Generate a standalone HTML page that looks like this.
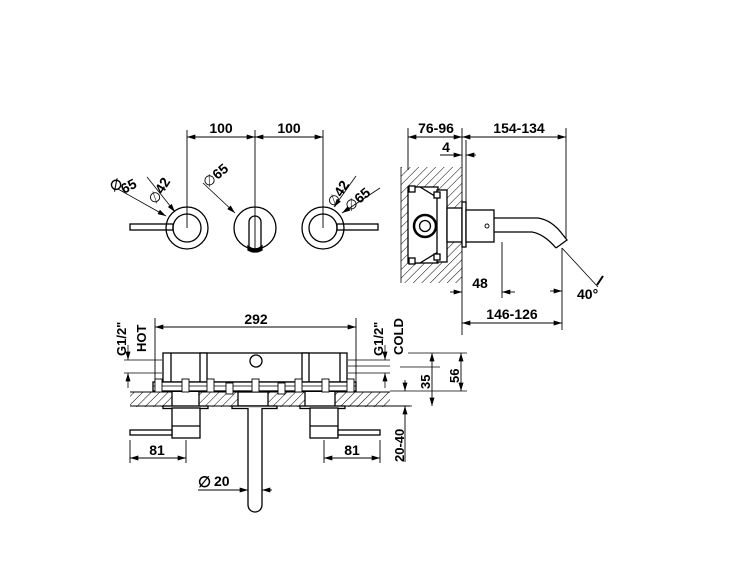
<!DOCTYPE html>
<html><head><style>
html,body{margin:0;padding:0;background:#fff;}
svg{display:block;}
text{font-family:"Liberation Sans",Arial,sans-serif;font-weight:bold;fill:#000;}
</style></head><body>
<svg width="750" height="563" viewBox="0 0 750 563" xmlns="http://www.w3.org/2000/svg">
<defs>
<pattern id="h" width="6" height="6" patternUnits="userSpaceOnUse" patternTransform="rotate(45)">
<line x1="0" y1="0" x2="0" y2="6" stroke="#000" stroke-width="1"/>
</pattern>
<marker id="a" viewBox="0 0 10 6" refX="10" refY="3" markerWidth="9" markerHeight="5" orient="auto-start-reverse" markerUnits="userSpaceOnUse"><path d="M0,0 L10,3 L0,6z" fill="#000"/></marker>
</defs>
<g stroke="#000" fill="none" stroke-width="1.3">
<!-- TOP VIEW -->
<line x1="187" y1="130" x2="187" y2="228" stroke-width="0.9"/>
<line x1="255" y1="130" x2="255" y2="250" stroke-width="0.9"/>
<line x1="323" y1="130" x2="323" y2="228" stroke-width="0.9"/>
<line x1="187" y1="137" x2="255" y2="137" stroke-width="0.9" marker-start="url(#a)" marker-end="url(#a)"/>
<line x1="255" y1="137" x2="323" y2="137" stroke-width="0.9" marker-start="url(#a)" marker-end="url(#a)"/>
<circle cx="187" cy="228" r="21"/><circle cx="187" cy="228" r="14"/>
<rect x="130" y="224" width="43" height="6"/>
<circle cx="255" cy="228" r="21"/>
<path d="M249,249 V222 a6,6 0 0 1 12,0 V249"/>
<path d="M248,246 Q255,252 262,246 L262,250 Q255,254 248,250z" fill="#000"/>
<circle cx="323" cy="228" r="21"/><circle cx="323" cy="228" r="14"/>
<rect x="337" y="224" width="41" height="6"/>
<line x1="118" y1="189" x2="166" y2="216" stroke-width="0.8" marker-end="url(#a)"/>
<line x1="147" y1="177" x2="175" y2="212" stroke-width="0.8" marker-end="url(#a)"/>
<line x1="203" y1="183" x2="235" y2="213" stroke-width="0.8" marker-end="url(#a)"/>
<line x1="356" y1="176" x2="334" y2="207" stroke-width="0.8" marker-end="url(#a)"/>
<line x1="380" y1="188" x2="342" y2="213" stroke-width="0.8" marker-end="url(#a)"/>
<!-- SIDE VIEW -->
<rect x="401" y="167" width="61" height="116" fill="url(#h)" stroke="none"/>
<line x1="401" y1="167" x2="401" y2="283" stroke-width="0.8"/>
<line x1="408" y1="128" x2="408" y2="170" stroke-width="0.9"/>
<line x1="462" y1="128" x2="462" y2="335" stroke-width="0.9"/>
<line x1="466" y1="140" x2="466" y2="205" stroke-width="0.9"/>
<line x1="566" y1="128" x2="566" y2="238" stroke-width="0.9"/>
<line x1="408" y1="137" x2="462" y2="137" stroke-width="0.9" marker-start="url(#a)" marker-end="url(#a)"/>
<line x1="462" y1="137" x2="566" y2="137" stroke-width="0.9" marker-start="url(#a)" marker-end="url(#a)"/>
<line x1="440" y1="155" x2="462" y2="155" stroke-width="0.9" marker-end="url(#a)"/>
<line x1="476" y1="155" x2="466" y2="155" stroke-width="0.9" marker-end="url(#a)"/>
<rect x="408" y="187" width="30" height="76" fill="#fff"/>
<path d="M412,187 L420,187 L438,198 L438,252 L420,263 L412,263" fill="#fff"/>
<rect x="437" y="190" width="10" height="72" fill="#fff"/>
<rect x="434" y="192" width="6" height="6" fill="#fff"/><rect x="434" y="254" width="6" height="6" fill="#fff"/>
<rect x="409" y="186" width="6" height="6" fill="#fff"/><rect x="409" y="258" width="6" height="6" fill="#fff"/>
<circle cx="425" cy="226" r="11" stroke-width="2.5" fill="#fff"/><circle cx="425" cy="226" r="5.5"/>
<rect x="447" y="208" width="15" height="34" fill="#fff"/>
<rect x="462" y="202" width="4" height="45" fill="#fff"/>
<rect x="466" y="210" width="28" height="32" fill="#fff"/>
<circle cx="487" cy="226" r="2" stroke-width="0.9"/>
<path d="M494,218 L538,218 Q552,220 563,235"/>
<path d="M494,232 L532,232 Q544,234 556,248"/>
<path d="M556,248 L567,240 L563,235"/>
<line x1="562" y1="248" x2="562" y2="330" stroke-width="0.9"/>
<line x1="502" y1="242" x2="502" y2="298" stroke-width="0.9"/>
<line x1="562" y1="248" x2="598" y2="287" stroke-width="0.8"/>
<line x1="597" y1="285" x2="603" y2="276" stroke-width="2"/>
<line x1="450" y1="292" x2="462" y2="292" stroke-width="0.9" marker-end="url(#a)"/>
<line x1="515" y1="292" x2="502" y2="292" stroke-width="0.9" marker-end="url(#a)"/>
<line x1="550" y1="291" x2="562" y2="291" stroke-width="0.9" marker-end="url(#a)"/>
<line x1="462" y1="323" x2="562" y2="323" stroke-width="0.9" marker-start="url(#a)" marker-end="url(#a)"/>
<!-- FRONT VIEW -->
<line x1="155" y1="318" x2="155" y2="385" stroke-width="0.9"/>
<line x1="356" y1="318" x2="356" y2="385" stroke-width="0.9"/>
<line x1="155" y1="327" x2="356" y2="327" stroke-width="0.9" marker-start="url(#a)" marker-end="url(#a)"/>
<rect x="130" y="392" width="260" height="15" fill="url(#h)" stroke="none"/>
<line x1="130" y1="392" x2="390" y2="392" stroke-width="0.9"/>
<line x1="130" y1="406" x2="410" y2="406" stroke-width="0.9"/>
<rect x="172" y="392" width="27" height="14" fill="#fff" stroke="none"/>
<rect x="238" y="392" width="30" height="14" fill="#fff" stroke="#000"/>
<rect x="305" y="392" width="30" height="14" fill="#fff" stroke="none"/>
<line x1="172" y1="392" x2="172" y2="406"/><line x1="199" y1="392" x2="199" y2="406"/>
<line x1="305" y1="392" x2="305" y2="406"/><line x1="335" y1="392" x2="335" y2="406"/>
<rect x="163" y="353" width="184" height="29" fill="#fff"/>
<line x1="171" y1="353" x2="171" y2="382"/><line x1="340" y1="353" x2="340" y2="382"/>
<rect x="200" y="353" width="7" height="29" fill="#fff"/>
<rect x="302" y="353" width="7" height="29" fill="#fff"/>
<circle cx="256" cy="361" r="6"/>
<rect x="153" y="382" width="203" height="9" fill="#fff"/>
<line x1="153" y1="386" x2="356" y2="386" stroke-width="0.8"/>
<g fill="#fff" stroke-width="0.9">
<rect x="155" y="379" width="7" height="13"/><rect x="182" y="379" width="7" height="13"/>
<rect x="207" y="379" width="7" height="13"/><rect x="226" y="383" width="7" height="11"/>
<rect x="252" y="379" width="7" height="13"/><rect x="278" y="383" width="7" height="11"/>
<rect x="295" y="379" width="7" height="13"/><rect x="322" y="379" width="7" height="13"/>
<rect x="347" y="379" width="7" height="13"/>
</g>
<rect x="163" y="406" width="45" height="2.5" fill="#fff"/>
<rect x="232" y="406" width="45" height="2.5" fill="#fff"/>
<rect x="300" y="406" width="45" height="2.5" fill="#fff"/>
<rect x="172" y="408" width="28" height="30" fill="#fff"/><line x1="172" y1="426" x2="200" y2="426"/>
<rect x="130" y="430" width="42" height="5" fill="#fff"/>
<rect x="310" y="408" width="28" height="30" fill="#fff"/><line x1="310" y1="426" x2="338" y2="426"/>
<rect x="338" y="430" width="42" height="5" fill="#fff"/>
<path d="M248,408 V505 a7,7 0 0 0 14,0 V408" fill="#fff"/>
<line x1="130" y1="440" x2="130" y2="463" stroke-width="0.9"/>
<line x1="186" y1="440" x2="186" y2="463" stroke-width="0.9"/>
<line x1="130" y1="458" x2="186" y2="458" stroke-width="0.9" marker-start="url(#a)" marker-end="url(#a)"/>
<line x1="324" y1="440" x2="324" y2="463" stroke-width="0.9"/>
<line x1="380" y1="440" x2="380" y2="463" stroke-width="0.9"/>
<line x1="324" y1="458" x2="380" y2="458" stroke-width="0.9" marker-start="url(#a)" marker-end="url(#a)"/>
<line x1="198" y1="490" x2="248" y2="490" stroke-width="0.9" marker-end="url(#a)"/>
<line x1="272" y1="490" x2="262" y2="490" stroke-width="0.9" marker-end="url(#a)"/>
<line x1="124" y1="360" x2="162" y2="360" stroke-width="0.8"/>
<line x1="124" y1="373" x2="162" y2="373" stroke-width="0.8"/>
<line x1="128" y1="345" x2="128" y2="360" stroke-width="0.8" marker-end="url(#a)"/>
<line x1="128" y1="388" x2="128" y2="373" stroke-width="0.8" marker-end="url(#a)"/>
<line x1="348" y1="360" x2="390" y2="360" stroke-width="0.8"/>
<line x1="348" y1="366" x2="390" y2="366" stroke-width="0.8"/>
<line x1="348" y1="373" x2="390" y2="373" stroke-width="0.8"/>
<line x1="385" y1="345" x2="385" y2="360" stroke-width="0.8" marker-end="url(#a)"/>
<line x1="385" y1="388" x2="385" y2="373" stroke-width="0.8" marker-end="url(#a)"/>
<line x1="408" y1="353" x2="467" y2="353" stroke-width="0.8"/>
<line x1="400" y1="367" x2="440" y2="367" stroke-width="0.8"/>
<line x1="390" y1="391" x2="467" y2="391" stroke-width="0.8"/>
<line x1="390" y1="406" x2="412" y2="406" stroke-width="0.8"/>
<line x1="432" y1="353" x2="432" y2="406" stroke-width="0.9" marker-start="url(#a)" marker-end="url(#a)"/>
<line x1="461" y1="353" x2="461" y2="391" stroke-width="0.9" marker-start="url(#a)" marker-end="url(#a)"/>
<line x1="405" y1="380" x2="405" y2="391" stroke-width="0.9" marker-end="url(#a)"/>
<line x1="405" y1="462" x2="405" y2="406" stroke-width="0.9" marker-end="url(#a)"/>
</g>
<g font-size="14">
<text x="221" y="133" text-anchor="middle">100</text>
<text x="289" y="133" text-anchor="middle">100</text>
<text x="436" y="133" text-anchor="middle">76-96</text>
<text x="519" y="133" text-anchor="middle">154-134</text>
<text x="446" y="152" text-anchor="middle">4</text>
<text x="480" y="288" text-anchor="middle">48</text>
<text x="577" y="299">40°</text>
<text x="512" y="319" text-anchor="middle">146-126</text>
<text x="256" y="324" text-anchor="middle">292</text>
<text x="157" y="455" text-anchor="middle">81</text>
<text x="352" y="455" text-anchor="middle">81</text>
<text x="214" y="486">20</text>
<text x="198" y="487" font-weight="normal" font-size="15">∅</text>
<text transform="translate(156,205) rotate(-58)" font-size="14"><tspan font-weight="normal">∅</tspan>42</text>
<text transform="translate(124,194) rotate(-28)" font-size="14">65</text>
<text transform="translate(113,192) rotate(-28)" font-weight="normal" font-size="14">∅</text>
<text transform="translate(208,188) rotate(-40)" font-size="14"><tspan font-weight="normal">∅</tspan>65</text>
<text transform="translate(335,208) rotate(-58)" font-size="14"><tspan font-weight="normal">∅</tspan>42</text>
<text transform="translate(350,212) rotate(-40)" font-size="14"><tspan font-weight="normal">∅</tspan>65</text>
<text transform="translate(126,356) rotate(-90)" font-size="13">G1/2"</text>
<text transform="translate(146,352) rotate(-90)" font-size="13">HOT</text>
<text transform="translate(383,356) rotate(-90)" font-size="13">G1/2"</text>
<text transform="translate(403,355) rotate(-90)" font-size="13">COLD</text>
<text transform="translate(430,389) rotate(-90)" font-size="13">35</text>
<text transform="translate(459,383) rotate(-90)" font-size="13">56</text>
<text transform="translate(404,462) rotate(-90)" font-size="13">20-40</text>
</g>
</svg>
</body></html>
